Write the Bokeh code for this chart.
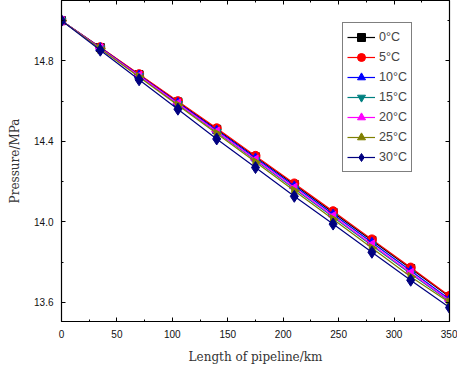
import math
from bokeh.plotting import figure
from bokeh.models import LinearAxis, Range1d, FixedTicker, Legend, LegendItem, NumeralTickFormatter
from bokeh.embed import file_html
from bokeh.resources import INLINE

length_km = [0, 35, 70, 105, 140, 175, 210, 245, 280, 315, 350]
p_0C = [15.0, 14.866, 14.731, 14.596, 14.460, 14.323, 14.186, 14.047, 13.908, 13.768, 13.628]
p_5C = [15.0, 14.868, 14.734, 14.600, 14.465, 14.328, 14.191, 14.053, 13.913, 13.773, 13.632]
p_10C = [15.0, 14.865, 14.729, 14.592, 14.455, 14.317, 14.178, 14.038, 13.898, 13.757, 13.616]
p_15C = [15.0, 14.862, 14.724, 14.585, 14.446, 14.306, 14.165, 14.024, 13.883, 13.742, 13.606]
p_20C = [15.0, 14.863, 14.726, 14.588, 14.449, 14.310, 14.170, 14.029, 13.888, 13.747, 13.609]
p_25C = [15.0, 14.860, 14.720, 14.580, 14.439, 14.297, 14.155, 14.013, 13.870, 13.727, 13.600]
p_30C = [15.0, 14.853, 14.706, 14.560, 14.412, 14.270, 14.127, 13.989, 13.849, 13.710, 13.574]

labels = ["0°C", "5°C", "10°C", "15°C", "20°C", "25°C", "30°C"]
series = [p_0C, p_5C, p_10C, p_15C, p_20C, p_25C, p_30C]
colors = ["#000000", "#FF0000", "#0000FF", "#008080", "#FF00FF", "#808000", "#000080"]
markers = ["square", "circle", "triangle", "inverted_triangle", "triangle", "triangle", "diamond"]
angles = [0, 0, 0, 0, math.pi / 2, -math.pi / 2, 0]
sizes = [8, 9, 9, 9, 9, 9, 12]

x_ticks = [0, 50, 100, 150, 200, 250, 300, 350]
x_minor = [25, 75, 125, 175, 225, 275, 325]
y_ticks = [13.6, 14.0, 14.4, 14.8]
y_minor = [13.8, 14.2, 14.6, 15.0]

p = figure(width=457, height=366, output_backend="svg", toolbar_location=None,
           x_range=Range1d(0, 350), y_range=Range1d(13.505, 15.1),
           min_border_left=61, min_border_right=8, min_border_top=0, min_border_bottom=0)
p.xgrid.visible = False
p.ygrid.visible = False
p.outline_line_color = "black"
p.outline_line_width = 1

items = []
for lab, ys, c, m, a, s in zip(labels, series, colors, markers, angles, sizes):
    r1 = p.line(length_km, ys, line_color=c, line_width=1.2)
    r2 = p.scatter(length_km, ys, marker=m, angle=a, size=s, fill_color=c, line_color=c)
    items.append(LegendItem(label=lab, renderers=[r1, r2]))

def style(ax):
    ax.axis_line_color = "black"
    ax.axis_line_width = 1.2
    ax.major_tick_in = 4
    ax.major_tick_out = 0
    ax.minor_tick_in = 2
    ax.minor_tick_out = 0
    ax.major_tick_line_color = "black"
    ax.minor_tick_line_color = "black"
    ax.major_label_text_font = "Liberation Sans"
    ax.major_label_text_font_size = "10px"
    ax.major_label_text_color = "#111111"

p.xaxis.ticker = FixedTicker(ticks=x_ticks, minor_ticks=x_minor)
p.yaxis.ticker = FixedTicker(ticks=y_ticks, minor_ticks=y_minor)
p.yaxis.formatter = NumeralTickFormatter(format="0.0")
style(p.xaxis[0])
style(p.yaxis[0])
p.xaxis.axis_label = "Length of pipeline/km"
p.yaxis.axis_label = "Pressure/MPa"
for ax in (p.xaxis[0], p.yaxis[0]):
    ax.axis_label_text_font = "DejaVu Serif"
    ax.axis_label_text_font_size = "12px"
    ax.axis_label_text_font_style = "normal"
    ax.axis_label_text_color = "#333333"
p.xaxis.axis_label_standoff = 9
p.yaxis.axis_label_standoff = 9
p.yaxis.major_label_standoff = 8
p.xaxis.major_label_standoff = 8

ra = LinearAxis(ticker=FixedTicker(ticks=y_ticks, minor_ticks=y_minor))
style(ra)
ra.major_label_overrides = {t: "" for t in y_ticks}
ra.major_label_text_font_size = "1px"
ra.major_label_standoff = 0
p.add_layout(ra, "right")
ta = LinearAxis(ticker=FixedTicker(ticks=x_ticks, minor_ticks=x_minor))
style(ta)
ta.major_label_overrides = {t: "" for t in x_ticks}
ta.major_label_text_font_size = "1px"
ta.major_label_standoff = 0
p.add_layout(ta, "above")

legend = Legend(items=items, location=(281, 149))
legend.border_line_color = "black"
legend.border_line_width = 1
legend.background_fill_color = "white"
legend.background_fill_alpha = 1
legend.label_text_font = "Liberation Sans"
legend.label_text_font_size = "12.5px"
legend.glyph_width = 28
legend.glyph_height = 20
legend.label_height = 20
legend.spacing = 0
legend.padding = 4
legend.margin = 0
legend.label_standoff = 4
p.add_layout(legend)

open("out.html", "w").write(file_html(p, INLINE))
